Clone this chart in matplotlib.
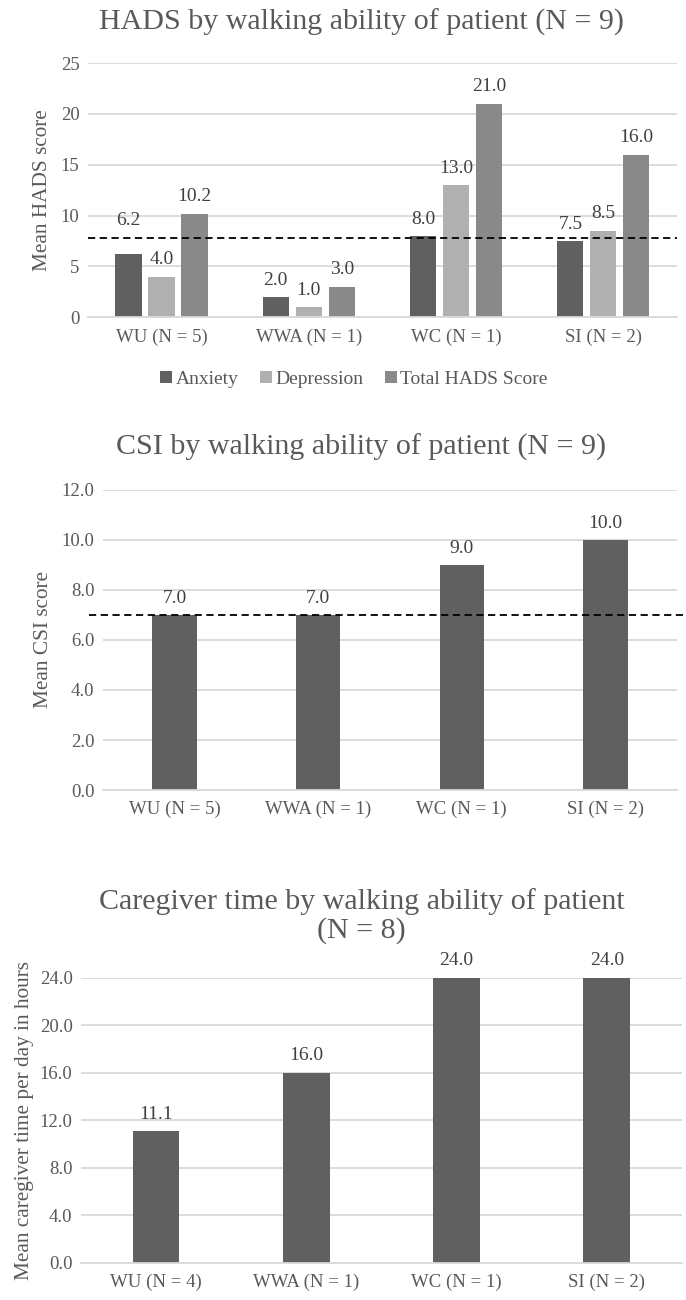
import numpy as np
import matplotlib
matplotlib.use('Agg')
import matplotlib.pyplot as plt

############################## Data ############################################
hads_groups = ['WU (N = 5)', 'WWA (N = 1)', 'WC (N = 1)', 'SI (N = 2)']
hads_anxiety = [6.2, 2.0, 8.0, 7.5]
hads_depression = [4.0, 1.0, 13.0, 8.5]
hads_total = [10.2, 3.0, 21.0, 16.0]
hads_cutoff = 7.8

csi_groups = ['WU (N = 5)', 'WWA (N = 1)', 'WC (N = 1)', 'SI (N = 2)']
csi_values = [7.0, 7.0, 9.0, 10.0]
csi_cutoff = 7.0

care_groups = ['WU (N = 4)', 'WWA (N = 1)', 'WC (N = 1)', 'SI (N = 2)']
care_values = [11.1, 16.0, 24.0, 24.0]

############################## Style ###########################################
plt.rcParams['font.family'] = ['Liberation Serif', 'DejaVu Serif']
TXT = '#595959'
GRID = '#d9d9d9'
DARK = '#606060'
LIGHT = '#b0b0b0'
MID = '#898989'


def style_axes(ax, ymax, step, fmt):
    ax.set_ylim(0, ymax)
    ticks = np.arange(0, ymax + step / 2, step)
    ax.set_yticks(ticks)
    ax.set_yticklabels([fmt.format(t) for t in ticks])
    ax.yaxis.grid(True, color=GRID, linewidth=1.3)
    ax.set_axisbelow(True)
    for s in ['top', 'right', 'left']:
        ax.spines[s].set_visible(False)
    ax.spines['bottom'].set_color(GRID)
    ax.spines['bottom'].set_linewidth(1.3)
    ax.tick_params(length=0, labelsize=13.5, colors=TXT, pad=8)
    ax.tick_params(axis='y', pad=6)


def bar_labels(ax, xs, vals, extra=None):
    for i, (x, v) in enumerate(zip(xs, vals)):
        off = 6
        if extra and i in extra:
            off += extra[i]
        ax.annotate('%.1f' % v, (x, v), xytext=(0, off), textcoords='offset points',
                    ha='center', va='bottom', fontsize=14, color='#404040')


fig = plt.figure(figsize=(6.86, 13.0), dpi=100)

############################## HADS ############################################
ax1 = fig.add_axes([0.128, 0.756, 0.859, 0.1955])
x = np.arange(len(hads_groups))
w = 0.177
step = 0.224
ax1.bar(x - step, hads_anxiety, w, color=DARK, label='Anxiety')
ax1.bar(x, hads_depression, w, color=LIGHT, label='Depression')
ax1.bar(x + step, hads_total, w, color=MID, label='Total HADS Score')
bar_labels(ax1, x - step, hads_anxiety, extra={0: 12})
bar_labels(ax1, x, hads_depression)
bar_labels(ax1, x + step, hads_total)
ax1.set_xlim(-0.5, 3.5)
style_axes(ax1, 25, 5, '{:.0f}')
ax1.set_xticks(x)
ax1.set_xticklabels(hads_groups)
ax1.axhline(hads_cutoff, color='black', linestyle=(0, (4, 2.5)), linewidth=1.3)
ax1.set_ylabel('Mean HADS score', fontsize=15.3, color=TXT, labelpad=6)
fig.text(0.527, 0.983, 'HADS by walking ability of patient (N = 9)',
         ha='center', va='center', fontsize=21.6, color=TXT)
fig.legend(loc='center', bbox_to_anchor=(0.516, 0.708), ncol=3, frameon=False,
           fontsize=14, handlelength=0.6, handleheight=0.6, handletextpad=0.2,
           columnspacing=1.1, labelcolor=TXT)

############################## CSI #############################################
ax2 = fig.add_axes([0.150, 0.3923, 0.837, 0.2308])
x2 = np.arange(len(csi_groups))
ax2.bar(x2, csi_values, 0.31, color=DARK)
bar_labels(ax2, x2, csi_values)
ax2.set_xlim(-0.5, 3.5)
style_axes(ax2, 12, 2, '{:.1f}')
ax2.set_xticks(x2)
ax2.set_xticklabels(csi_groups)
ax2.plot([-0.6, 3.6], [csi_cutoff, csi_cutoff], color='black',
         linestyle=(0, (4, 2.5)), linewidth=1.3, clip_on=False)
ax2.set_ylabel('Mean CSI score', fontsize=15.3, color=TXT, labelpad=6)
fig.text(0.527, 0.6555, 'CSI by walking ability of patient (N = 9)',
         ha='center', va='center', fontsize=21.6, color=TXT)

############################## Caregiver time ##################################
ax3 = fig.add_axes([0.118, 0.0287, 0.876, 0.2192])
x3 = np.arange(len(care_groups))
ax3.bar(x3, care_values, 0.31, color=DARK)
bar_labels(ax3, x3, care_values)
ax3.set_xlim(-0.5, 3.5)
style_axes(ax3, 24, 4, '{:.1f}')
ax3.set_xticks(x3)
ax3.set_xticklabels(care_groups)
ax3.set_ylabel('Mean caregiver time per day in hours', fontsize=15.3, color=TXT,
               labelpad=4)
fig.text(0.527, 0.2955, 'Caregiver time by walking ability of patient\n(N = 8)',
         ha='center', va='center', fontsize=21.6, color=TXT, linespacing=1.1)

fig.savefig('out.png', dpi=100)
